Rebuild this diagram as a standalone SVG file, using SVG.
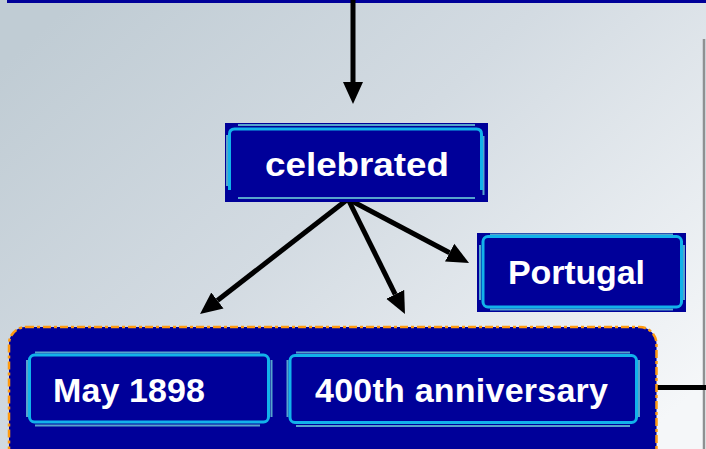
<svg xmlns="http://www.w3.org/2000/svg" width="706" height="449" viewBox="0 0 706 449">
  <defs>
    <linearGradient id="bg" x1="0" y1="0.15" x2="1" y2="0.85">
      <stop offset="0" stop-color="#c0ccd4"/>
      <stop offset="0.45" stop-color="#d3dbe2"/>
      <stop offset="1" stop-color="#f5f7f9"/>
    </linearGradient>
    <marker id="head" markerUnits="userSpaceOnUse" markerWidth="24" markerHeight="22" refX="0" refY="11" orient="auto" viewBox="0 0 24 22">
      <path d="M0,1 L22,11 L0,21 z" fill="#000"/>
    </marker>
    <style>
      .box { fill: #000099; }
      .bevel { fill: none; stroke: #56a4cc; stroke-width: 2; }
      .ring { fill: none; stroke: #12b2ea; stroke-width: 3; }
      .label { font-family: "Liberation Sans", Arial, sans-serif; font-weight: bold; fill: #ffffff; font-size: 34px; }
      .conn { stroke: #000; stroke-width: 5; fill: none; }
    </style>
  </defs>

  <!-- background -->
  <rect x="0" y="0" width="706" height="449" fill="url(#bg)"/>
  <rect x="7" y="0" width="699" height="3" fill="#000099"/>
  <line x1="704" y1="39" x2="704" y2="449" stroke="#8e9192" stroke-width="2.5"/>

  <!-- connectors -->
  <g id="connectors">
    <line class="conn" x1="353" y1="0" x2="353" y2="82" marker-end="url(#head)"/>
    <line class="conn" x1="348" y1="199" x2="217.4" y2="300.5" marker-end="url(#head)"/>
    <line class="conn" x1="348" y1="199" x2="395.2" y2="294.3" marker-end="url(#head)"/>
    <line class="conn" x1="348" y1="199" x2="449.6" y2="252.7" marker-end="url(#head)"/>
    <line class="conn" x1="656" y1="387.5" x2="706" y2="387.5"/>
  </g>

  <!-- celebrated -->
  <g id="node-celebrated">
    <rect class="box" x="225" y="123" width="263" height="79"/>
    <path class="bevel" d="M238,125 H475 M238,198 H475 M227,135 V186 M483.5,136 V195"/>
    <path class="ring" d="M229.5,190 V134 Q229.5,129 234.5,129 H476.5 Q481.5,129 481.5,134 V190"/>
    <text class="label" x="265" y="176" font-size="37" textLength="184" lengthAdjust="spacingAndGlyphs">celebrated</text>
  </g>

  <!-- Portugal -->
  <g id="node-portugal">
    <rect class="box" x="477" y="233" width="209" height="79"/>
    <path class="bevel" d="M490,234.5 H673 M490,309.5 H673 M480,245 V300 M684,245 V300"/>
    <rect class="ring" x="483" y="236.5" width="198.5" height="70.5" rx="5"/>
    <text class="label" x="508" y="284" textLength="137" lengthAdjust="spacing">Portugal</text>
  </g>

  <!-- group container -->
  <g id="group">
    <rect x="9" y="327" width="647.5" height="150" rx="17" fill="#000099" stroke="#ff9a10" stroke-width="2.5" stroke-dasharray="8 3 3 3"/>

    <g id="node-may-1898">
      <path class="bevel" d="M35,352.5 H260 M35,425.5 H260 M27,360 V417 M271.5,360 V417"/>
      <rect class="ring" x="29.5" y="355" width="239" height="67" rx="5"/>
      <text class="label" x="53" y="402" textLength="152" lengthAdjust="spacing">May 1898</text>
    </g>

    <g id="node-400th">
      <path class="bevel" d="M296,352.5 H630 M296,426 H630 M287.5,360 V417 M639,360 V417"/>
      <rect class="ring" x="290" y="355.5" width="346.5" height="67" rx="5"/>
      <text class="label" x="315" y="402" textLength="293" lengthAdjust="spacing">400th anniversary</text>
    </g>
  </g>
</svg>
